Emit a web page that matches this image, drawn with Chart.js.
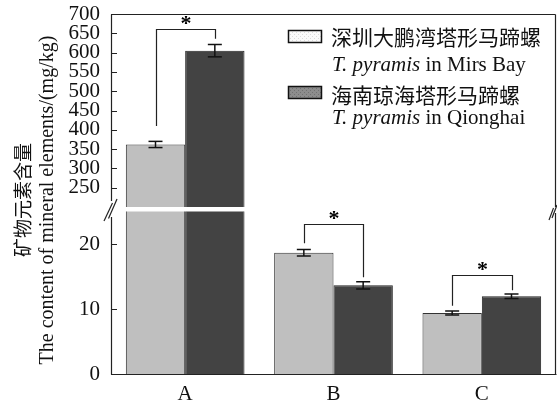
<!DOCTYPE html>
<html>
<head>
<meta charset="utf-8">
<script src="https://cdn.jsdelivr.net/npm/chart.js@4.4.0/dist/chart.umd.min.js"></script>
<style>
	html, body { margin: 0; padding: 0; background: #fff; }
	#wrap { position: relative; width: 557px; height: 403px; }
	#wrap canvas { position: absolute; left: 0; top: 0; }
</style>
</head>
<body>
<div id="wrap">
	<canvas id="upper" width="557" height="403"></canvas>
	<canvas id="lower" width="557" height="403"></canvas>
</div>
<script>
'use strict';

var categories = ['A', 'B', 'C'];

// 深圳大鹏湾 (Mirs Bay) and 海南琼海 (Qionghai)
var mirsValues = [362, 18.66, 9.38];
var mirsErrors = [8, 0.5, 0.3];
var qiongValues = [605, 13.64, 11.95];
var qiongErrors = [16, 0.55, 0.35];

// significance brackets: top of bracket, end of left leg, end of right leg
var sigTop = [662, 23.1, 15.3];
var sigLeft = [410, 20.1, 10.5];
var sigRight = [636, 14.9, 12.9];

var upperTicks = [250, 300, 350, 400, 450, 500, 550, 600, 650, 700];
var lowerTicks = [0, 10, 20];

var serif = '"Liberation Serif", "Times New Roman", serif';
var cjk = '"Noto Sans CJK SC", sans-serif';

Chart.defaults.devicePixelRatio = 1;

function line(ctx, x1, y1, x2, y2){
	ctx.beginPath();
	ctx.moveTo(x1, y1);
	ctx.lineTo(x2, y2);
	ctx.stroke();
}

//error bars, brackets and the inward tick marks
var marksPlugin = {
	id : 'marks',
	afterDatasetsDraw : function(chart){
		var ctx = chart.ctx,
			area = chart.chartArea,
			y = chart.scales.y,
			errs = [mirsErrors, qiongErrors],
			vals = [mirsValues, qiongValues],
			i, j, x, m0, m1, xl, xr, yt;

		ctx.save();
		ctx.beginPath();
		ctx.rect(area.left, area.top - 1, area.right - area.left, area.bottom - area.top + 1);
		ctx.clip();

		ctx.strokeStyle = '#111';
		ctx.lineWidth = 1.5;
		for(i = 0; i < 2; i++){
			var meta = chart.getDatasetMeta(i);
			for(j = 0; j < categories.length; j++){
				x = meta.data[j].x;
				var top = y.getPixelForValue(vals[i][j] + errs[i][j]),
					bot = y.getPixelForValue(vals[i][j] - errs[i][j]);
				line(ctx, x, top, x, bot);
				line(ctx, x - 7, top, x + 7, top);
				line(ctx, x - 7, bot, x + 7, bot);
			}
		}

		m0 = chart.getDatasetMeta(0);
		m1 = chart.getDatasetMeta(1);
		ctx.lineWidth = 1.2;
		ctx.strokeStyle = '#222';
		ctx.fillStyle = '#000';
		ctx.font = 'bold 22px ' + serif;
		ctx.textAlign = 'center';
		ctx.textBaseline = 'middle';
		for(j = 0; j < categories.length; j++){
			xl = Math.round(m0.data[j].x) + 0.5;
			xr = Math.round(m1.data[j].x) + 0.5;
			yt = Math.round(y.getPixelForValue(sigTop[j])) + 0.5;
			ctx.beginPath();
			ctx.moveTo(xl, y.getPixelForValue(sigLeft[j]));
			ctx.lineTo(xl, yt);
			ctx.lineTo(xr, yt);
			ctx.lineTo(xr, y.getPixelForValue(sigRight[j]));
			ctx.stroke();
			ctx.fillText('*', (xl + xr) / 2, yt - 5);
		}
		ctx.restore();

		//inward ticks
		ctx.save();
		ctx.strokeStyle = '#222';
		ctx.lineWidth = 1;
		y.ticks.forEach(function(t){
			var py = Math.round(y.getPixelForValue(t.value)) + 0.5;
			line(ctx, area.left, py, area.left + 6, py);
		});
		ctx.restore();
	}
};

//frame, break marks, legend and axis title
var framePlugin = {
	id : 'frame',
	afterDraw : function(chart){
		var ctx = chart.ctx,
			a = chart.chartArea,
			l = Math.round(a.left) + 0.5,
			r = Math.round(a.right) - 0.5;

		ctx.save();
		ctx.strokeStyle = '#222';
		ctx.lineWidth = 1.2;
		if(chart.canvas.id === 'upper'){
			var t = Math.round(a.top) + 0.5;
			line(ctx, l, t, r, t);
			line(ctx, l, t, l, 201);
			line(ctx, r, t, r, 207);
			drawLegend(ctx);
		} else {
			var b = Math.round(a.bottom) + 0.5;
			line(ctx, l, 217, l, b);
			line(ctx, r, 213, r, b);
			line(ctx, l, b, r + 1, b);
			//break marks
			ctx.lineWidth = 1.2;
			line(ctx, 104, 221, 112.5, 203);
			line(ctx, 108.5, 218.5, 117, 199);
			line(ctx, 549, 220, 553.5, 208);
			line(ctx, 552, 218, 557, 205);
			drawTitle(ctx);
		}
		ctx.restore();
	}
};

function makePattern(ctx, base, dot){
	var c = document.createElement('canvas'), p;
	c.width = 4;
	c.height = 4;
	p = c.getContext('2d');
	p.fillStyle = base;
	p.fillRect(0, 0, 4, 4);
	p.fillStyle = dot;
	p.fillRect(0, 0, 1, 1);
	p.fillRect(2, 2, 1, 1);
	return ctx.createPattern(c, 'repeat');
}

function drawLegend(ctx){
	var rows = [
		{ y : 30, fill : makePattern(ctx, '#fbfbfb', '#dcdcdc'), cn : '深圳大鹏湾塔形马蹄螺', en : ' in Mirs Bay', cy : 37, ey : 71 },
		{ y : 86, fill : makePattern(ctx, '#8c8c8c', '#707070'), cn : '海南琼海塔形马蹄螺', en : ' in Qionghai', cy : 95, ey : 124 }
	];
	ctx.save();
	rows.forEach(function(row){
		ctx.fillStyle = row.fill;
		ctx.fillRect(288, row.y, 34, 13);
		ctx.strokeStyle = '#111';
		ctx.lineWidth = 1.5;
		ctx.strokeRect(288.5, row.y + 0.5, 33, 12);

		ctx.fillStyle = '#111';
		ctx.textAlign = 'left';
		ctx.textBaseline = 'middle';
		ctx.font = '21px ' + cjk;
		ctx.fillText(row.cn, 331, row.cy);

		ctx.textBaseline = 'alphabetic';
		ctx.font = 'italic 21px ' + serif;
		ctx.fillText('T. pyramis', 332, row.ey);
		var w = ctx.measureText('T. pyramis').width;
		ctx.font = '21px ' + serif;
		ctx.fillText(row.en, 332 + w, row.ey);
	});
	ctx.restore();
}

function drawTitle(ctx){
	ctx.save();
	ctx.translate(0, 200);
	ctx.rotate(-Math.PI / 2);
	ctx.fillStyle = '#111';
	ctx.textAlign = 'center';
	ctx.textBaseline = 'middle';
	ctx.font = '19px ' + cjk;
	ctx.fillText('矿物元素含量', 0, 23);
	ctx.font = '20px ' + serif;
	ctx.fillText('The content of mineral elements/(mg/kg)', 0, 48);
	ctx.restore();
}

function buildChart(id, min, max, ticks, showX, padding){
	return new Chart(document.getElementById(id).getContext('2d'), {
		type : 'bar',
		data : {
			labels : categories,
			datasets : [{
				data : mirsValues,
				backgroundColor : '#bfbfbf',
				borderColor : '#333',
				borderWidth : 1,
				categoryPercentage : 0.8,
				barPercentage : 1.0
			},{
				data : qiongValues,
				backgroundColor : '#434343',
				borderColor : '#222',
				borderWidth : 1,
				categoryPercentage : 0.8,
				barPercentage : 1.0
			}]
		},
		options : {
			responsive : false,
			animation : false,
			layout : { padding : padding },
			plugins : {
				legend : { display : false },
				tooltip : { enabled : false }
			},
			scales : {
				x : {
					display : showX,
					offset : true,
					grid : { display : false, drawTicks : false },
					border : { display : false },
					ticks : { color : '#111', padding : 8, font : { family : serif, size : 21 } },
					afterFit : function(scale){ scale.height = showX ? 29 : 0; }
				},
				y : {
					min : min,
					max : max,
					grid : { display : false, drawTicks : false },
					border : { display : false },
					ticks : { color : '#111', padding : 11, autoSkip : false, font : { family : serif, size : 21 } },
					afterBuildTicks : function(scale){
						scale.ticks = ticks.map(function(v){ return { value : v }; });
					},
					afterFit : function(scale){
						scale.width = 111;
						scale.paddingTop = 0;
						scale.paddingBottom = 0;
					}
				}
			}
		},
		plugins : [marksPlugin, framePlugin]
	});
}

buildChart('upper', 200, 700, upperTicks, false, { top : 14, bottom : 196, left : 0, right : 1 });
buildChart('lower', 0, 25, lowerTicks, true, { top : 211.5, bottom : 0, left : 0, right : 1 });
</script>
</body>
</html>
